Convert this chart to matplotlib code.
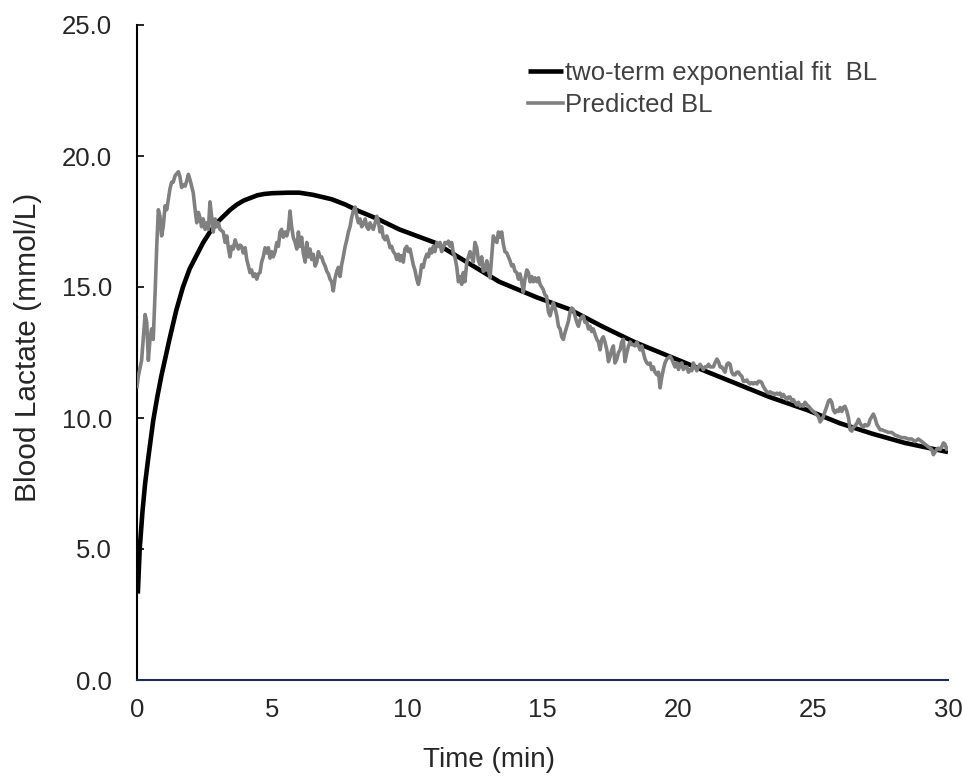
import matplotlib
matplotlib.use('Agg')

import matplotlib.pyplot as plt

# Two-term exponential fit
fit_time = [0.03, 0.1, 0.2, 0.3, 0.42, 0.6, 0.75, 0.9, 1.05, 1.2, 1.45, 1.7, 1.95, 2.2,
            2.45, 2.7, 2.95, 3.2, 3.45, 3.7, 3.95, 4.2, 4.45, 4.7, 5.0, 5.6, 6.0, 6.5,
            7.2, 7.7, 8.2, 8.9, 9.7, 11.0, 12.2, 13.4, 14.8, 16.0, 17.2, 18.4,
            19.7, 21.0, 22.2, 23.4, 24.8, 26.0, 27.2, 28.4, 30.0]
fit_bl = [3.3, 5.0, 6.4, 7.5, 8.5, 9.9, 10.8, 11.6, 12.3, 13.0, 14.1, 15.0, 15.7, 16.2,
          16.7, 17.1, 17.45, 17.7, 17.95, 18.15, 18.3, 18.4, 18.5, 18.55, 18.58, 18.6, 18.6, 18.52,
          18.35, 18.15, 17.9, 17.6, 17.2, 16.7, 15.95, 15.2, 14.6, 14.15, 13.5, 12.9,
          12.35, 11.8, 11.3, 10.8, 10.3, 9.8, 9.4, 9.05, 8.7]

# Predicted BL (noisy trace)
pred_time = [
    0.00, 0.05, 0.17, 0.30, 0.36, 0.42, 0.48, 0.54, 0.60, 0.67, 0.73, 0.79, 0.85, 0.91, 0.97,
    1.04, 1.10, 1.16, 1.22, 1.28, 1.34, 1.41, 1.53, 1.59, 1.65, 1.71, 1.78, 1.84, 1.90, 1.96,
    2.02, 2.08, 2.15, 2.21, 2.27, 2.33, 2.39, 2.45, 2.52, 2.58, 2.64, 2.70, 2.76, 2.82, 2.89,
    2.95, 3.01, 3.07, 3.19, 3.26, 3.32, 3.38, 3.44, 3.50, 3.56, 3.63, 3.69, 3.75, 3.81, 3.87,
    3.93, 4.00, 4.06, 4.12, 4.18, 4.24, 4.30, 4.37, 4.43, 4.49, 4.55, 4.61, 4.67, 4.74,
    4.80, 4.86, 4.92, 4.98, 5.04, 5.11, 5.17, 5.23, 5.29, 5.35, 5.41, 5.48, 5.54, 5.60, 5.66,
    5.72, 5.78, 5.85, 5.91, 5.97, 6.03, 6.09, 6.15, 6.22, 6.28, 6.34, 6.40, 6.46, 6.52, 6.59,
    6.65, 6.71, 6.77, 6.83, 6.89, 6.96, 7.02, 7.08, 7.14, 7.20, 7.26, 7.33, 7.39, 7.45, 7.51,
    7.57, 7.63, 7.70, 7.76, 7.82, 7.88, 7.94, 8.00, 8.07, 8.13, 8.19, 8.25, 8.31, 8.37, 8.44,
    8.50, 8.56, 8.62, 8.68, 8.74, 8.81, 8.87, 8.93, 8.99, 9.05, 9.11, 9.18, 9.24, 9.30, 9.36,
    9.42, 9.48, 9.55, 9.61, 9.67,
    9.73, 9.79, 9.85, 9.91, 9.98, 10.04, 10.10, 10.16, 10.22, 10.28, 10.35, 10.41, 10.47, 10.53,
    10.59, 10.65, 10.72, 10.78, 10.84, 10.90, 10.96, 11.02, 11.09, 11.15, 11.21, 11.27, 11.33,
    11.39, 11.46, 11.52, 11.58, 11.64, 11.70, 11.76, 11.83, 11.89, 11.95, 12.01, 12.07, 12.13,
    12.20, 12.26, 12.32, 12.38, 12.44, 12.50, 12.57, 12.63, 12.69, 12.75, 12.81, 12.87, 12.94,
    13.00, 13.06, 13.12, 13.18, 13.24, 13.31, 13.37, 13.43, 13.49, 13.55, 13.61, 13.68, 13.74,
    13.80, 13.86, 13.92, 13.98, 14.05, 14.11, 14.17, 14.23, 14.29, 14.35, 14.42, 14.48, 14.54,
    14.60, 14.66, 14.72,
    14.79, 14.85, 14.91, 14.97, 15.03, 15.09, 15.15, 15.22, 15.28, 15.34, 15.40, 15.46, 15.53,
    15.59, 15.65, 15.71, 15.77, 15.83, 15.90, 15.96, 16.02, 16.08, 16.14, 16.20, 16.27, 16.33,
    16.39, 16.45, 16.51, 16.57, 16.64, 16.70, 16.76, 16.82, 16.88, 16.94, 17.01, 17.07, 17.13,
    17.19, 17.25, 17.31, 17.38, 17.44, 17.50, 17.56, 17.62, 17.68, 17.75, 17.81, 17.87, 17.93,
    17.99, 18.05, 18.12, 18.18, 18.24, 18.30, 18.36, 18.42, 18.49, 18.55, 18.61, 18.67, 18.73,
    18.79, 18.86, 18.92, 18.98, 19.04, 19.10, 19.16, 19.23, 19.29, 19.35, 19.41, 19.47, 19.53,
    19.60, 19.66,
    19.72, 19.78, 19.84, 19.90, 19.97, 20.03, 20.09, 20.15, 20.21, 20.27, 20.34, 20.40, 20.46,
    20.52, 20.58, 20.64, 20.71, 20.77, 20.83, 20.89, 20.95, 21.01, 21.08, 21.14, 21.20, 21.26,
    21.32, 21.38, 21.45, 21.51, 21.57, 21.63, 21.69, 21.75, 21.82, 21.88, 21.94, 22.00, 22.06,
    22.12, 22.19, 22.25, 22.31, 22.37, 22.43, 22.49, 22.56, 22.62, 22.68, 22.74, 22.80, 22.86,
    22.93, 22.99, 23.05, 23.11, 23.17, 23.23, 23.30, 23.36, 23.42, 23.48, 23.54, 23.60, 23.67,
    23.73, 23.79, 23.85, 23.91, 23.97, 24.04, 24.10, 24.16, 24.22, 24.28, 24.34, 24.41, 24.47,
    24.53, 24.59, 24.65, 24.71, 24.78,
    24.84, 24.96, 25.08, 25.21, 25.27, 25.33, 25.39, 25.45, 25.52, 25.58, 25.64, 25.70, 25.76,
    25.82, 25.89, 25.95, 26.01, 26.07, 26.13, 26.19, 26.26, 26.32, 26.38, 26.44, 26.50, 26.56,
    26.63, 26.69, 26.75, 26.81, 26.87, 26.93, 27.00, 27.06, 27.12, 27.18, 27.24, 27.30, 27.37,
    27.43, 27.49, 27.55, 27.67, 27.80, 27.92, 28.04, 28.16, 28.29, 28.41, 28.53, 28.66, 28.78,
    28.90, 29.03, 29.15, 29.27, 29.40, 29.46, 29.52, 29.58, 29.64, 29.71, 29.77, 29.83, 29.89,
    29.95, 30.00,
]
pred_bl = [
    11.2, 11.6, 12.2, 13.95, 13.65, 12.2, 13.0, 13.4, 13.0, 14.8, 16.55, 17.95, 17.7, 16.95, 17.3,
    18.1, 17.95, 18.35, 18.75, 19.0, 19.0, 19.25, 19.4, 19.2, 18.8, 18.9, 18.85, 19.05, 19.3, 19.1,
    18.85, 18.6, 17.95, 17.45, 17.85, 17.65, 17.3, 17.6, 17.2, 17.45, 17.2, 18.25, 17.7, 17.1, 17.6,
    17.3, 17.45, 17.2, 17.1, 16.7, 16.95, 16.5, 16.15, 16.55, 16.45, 16.8, 16.6, 16.45, 16.6, 16.55,
    16.3, 16.5, 16.05, 15.8, 15.55, 15.65, 15.4, 15.5, 15.3, 15.5, 15.55, 15.95, 16.15, 16.5,
    16.3, 16.5, 16.1, 16.35, 16.15, 16.35, 16.7, 16.55, 17.1, 17.2, 16.9, 17.1, 16.95, 17.2, 17.9,
    17.3, 16.9, 16.7, 16.45, 17.1, 16.55, 16.9, 16.3, 15.95, 16.7, 16.15, 16.45, 16.05, 16.25, 15.8,
    15.95, 16.35, 16.15, 16.15, 15.95, 15.8, 15.6, 15.5, 15.3, 15.2, 14.85, 15.35, 15.6, 15.75, 15.4,
    15.85, 16.15, 16.55, 16.8, 17.1, 17.3, 17.65, 17.9, 18.05, 17.7, 17.45, 17.6, 17.3, 17.4, 17.6,
    17.3, 17.2, 17.45, 17.3, 17.2, 17.45, 17.7, 17.5, 17.1, 17.3, 16.9, 16.8, 16.95, 16.75, 16.5,
    16.55, 16.35, 16.25, 16.05, 16.25,
    16.0, 16.2, 15.95, 16.45, 16.55, 16.35, 16.45, 16.15, 15.85, 15.65, 15.3, 15.1, 15.4, 15.85,
    15.75, 16.05, 16.25, 16.15, 16.45, 16.3, 16.55, 16.35, 16.7, 16.55, 16.7, 16.35, 16.5,
    16.7, 16.65, 16.75, 16.55, 16.7, 16.3, 16.15, 15.75, 15.2, 15.4, 15.1, 15.55, 15.2,
    15.95, 16.15, 16.35, 16.15, 15.95, 16.7, 16.5, 16.0, 15.85, 16.15, 15.6, 15.65, 16.0,
    15.65, 15.35, 16.15, 16.95, 16.8, 16.7, 17.1, 16.9, 17.1, 16.65, 16.35, 16.3, 16.15,
    16.0, 15.8, 15.85, 15.6, 15.55, 15.3, 15.5, 15.2, 14.8, 15.3, 15.65, 15.55, 15.2,
    15.4, 15.2, 15.35,
    15.2, 15.35, 15.1, 15.0, 14.9, 14.7, 14.65, 14.05, 13.9, 14.15, 14.4, 14.2, 13.9,
    13.5, 13.4, 13.1, 13.0, 13.25, 13.5, 13.7, 14.05, 14.2, 14.15, 13.9, 13.65, 13.5,
    13.75, 13.85, 13.9, 13.65, 13.65, 13.4, 13.5, 13.3, 13.4, 13.2, 13.0, 12.9, 12.6,
    13.0, 13.1, 12.9, 12.6, 12.15, 12.35, 12.6, 12.75, 12.1, 12.25, 12.5, 12.6, 12.9,
    13.0, 12.15, 12.5, 12.75, 12.9, 12.8, 12.8, 12.75, 12.9, 12.75, 12.6, 12.75, 12.5,
    12.25, 12.1, 12.05, 12.1, 11.85, 11.95, 11.75, 11.65, 11.75, 11.15, 11.55, 11.85, 12.1,
    12.25, 12.3,
    12.35, 12.25, 12.1, 11.95, 12.1, 11.85, 12.05, 12.1, 11.85, 11.95, 11.95, 11.75, 11.85,
    11.8, 12.1, 11.95, 11.8, 11.95, 12.05, 11.95, 11.85, 11.95, 11.95, 12.05, 11.95, 11.95,
    11.95, 12.1, 12.25, 12.15, 11.95, 11.95, 11.85, 11.75, 12.05, 12.1, 12.05, 11.75, 11.65,
    11.65, 11.75, 11.75, 11.65, 11.6, 11.4, 11.4, 11.45, 11.35, 11.3, 11.35, 11.3, 11.35,
    11.3, 11.4, 11.4, 11.35, 11.2, 11.1, 11.0, 10.95, 11.0, 10.95, 10.95, 10.9, 10.95,
    10.9, 10.95, 10.8, 10.9, 10.8, 10.7, 10.8, 10.8, 10.65, 10.7, 10.6, 10.5, 10.6,
    10.45, 10.5, 10.45, 10.6, 10.5,
    10.45, 10.3, 10.2, 10.05, 9.85, 9.95, 10.05, 10.25, 10.45, 10.65, 10.7, 10.6, 10.3,
    10.2, 10.3, 10.25, 10.4, 10.25, 10.4, 10.45, 10.25, 10.0, 9.55, 9.5, 9.65, 9.7,
    9.8, 9.95, 9.8, 9.7, 9.65, 9.75, 9.7, 9.75, 9.95, 10.05, 10.15, 10.0, 9.75,
    9.65, 9.55, 9.55, 9.5, 9.45, 9.45, 9.35, 9.3, 9.25, 9.25, 9.2, 9.2, 9.1,
    9.2, 9.1, 9.0, 8.9, 8.8, 8.6, 8.7, 8.8, 8.85, 8.8, 8.9, 9.05, 9.0,
    8.8, 8.85,
]

x_ticks = [0, 5, 10, 15, 20, 25, 30]
y_ticks = [0.0, 5.0, 10.0, 15.0, 20.0, 25.0]

plt.rcParams['font.family'] = ['Liberation Sans', 'DejaVu Sans']

fig = plt.figure(figsize=(9.64, 7.77), dpi=100)
ax = fig.add_axes([137 / 964, 1 - 680 / 777, (948 - 137) / 964, (680 - 25) / 777])

# Křivky
ax.plot(fit_time, fit_bl, color='black', lw=3.3, solid_capstyle='butt',
        solid_joinstyle='round', label='two-term exponential fit  BL', zorder=2)
ax.plot(pred_time, pred_bl, color='#808080', lw=2.6, solid_joinstyle='round',
        label='Predicted BL', zorder=3)

ax.set_xlim(0, 30)
ax.set_ylim(0, 25)
ax.set_xticks(x_ticks)
ax.set_yticks(y_ticks)
ax.set_xticklabels([str(v) for v in x_ticks])
ax.set_yticklabels([f"{v:.1f}" for v in y_ticks])

# Osy ve stylu Excelu
for side in ['top', 'right']:
    ax.spines[side].set_visible(False)
ax.spines['left'].set_color('black')
ax.spines['left'].set_linewidth(1.5)
ax.spines['bottom'].set_color('#1f2a60')
ax.spines['bottom'].set_linewidth(1.5)

ax.tick_params(axis='y', direction='in', length=5, width=1.2, pad=18,
               labelsize=18.5, labelcolor='#262626', color='black')
ax.tick_params(axis='x', length=0, pad=13, labelsize=18.5, labelcolor='#262626')

ax.set_xlabel('Time (min)', fontsize=20, color='#262626')
ax.set_ylabel('Blood Lactate (mmol/L)', fontsize=21.5, color='#262626')
# popisek osy x je v originálu posunutý doleva od středu
ax.xaxis.set_label_coords((489 - 137) / (948 - 137), -(760 - 680) / (680 - 25), transform=ax.transAxes)
ax.yaxis.set_label_coords(-(137 - 28) / (948 - 137), (680 - 347) / (680 - 25), transform=ax.transAxes)
ax.xaxis.label.set_va('center')
ax.yaxis.label.set_va('center')

fig.legend(loc='upper left', bbox_to_anchor=(528 / 964, 1 - 61 / 777),
           frameon=False, fontsize=18.5, handlelength=1.35, handletextpad=0.1,
           labelspacing=0.3, borderpad=0, borderaxespad=0, labelcolor='#404040')

fig.savefig('out.png', dpi=100)
